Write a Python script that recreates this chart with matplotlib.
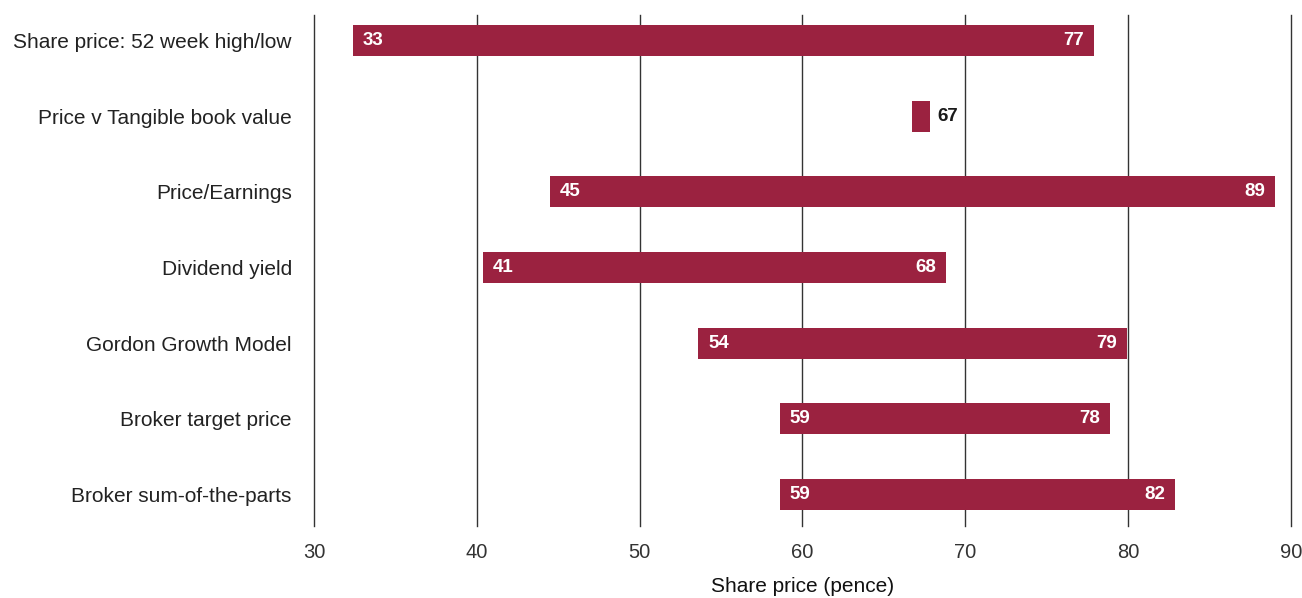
import matplotlib.pyplot as plt

plt.rcParams['font.family'] = ['Liberation Sans', 'DejaVu Sans']

methods = ['Share price: 52 week high/low', 'Price v Tangible book value',
           'Price/Earnings', 'Dividend yield', 'Gordon Growth Model',
           'Broker target price', 'Broker sum-of-the-parts']
# bar extents (pence)
bar_low = [32.4, 66.7, 44.5, 40.4, 53.6, 58.6, 58.6]
bar_high = [77.9, 67.8, 89.0, 68.8, 79.9, 78.9, 82.9]
# printed labels
label_low = ['33', '', '45', '41', '54', '59', '59']
label_high = ['77', '67', '89', '68', '79', '78', '82']

color = '#9b2240'

fig = plt.figure(figsize=(13.02, 5.98), dpi=100)
ax = fig.add_axes([314 / 1302, 72 / 598, 977 / 1302, 511 / 598])

for i in range(len(methods)):
    lo, hi = bar_low[i], bar_high[i]
    ax.barh(i, hi - lo, left=lo, height=0.41, color=color, zorder=3)
    if label_low[i] == '':
        ax.annotate(label_high[i], (hi, i), xytext=(6, 0),
                    textcoords='offset points', ha='left', va='center',
                    fontsize=13.5, fontweight='bold', color='#1a1a1a')
    else:
        ax.annotate(label_low[i], (lo, i), xytext=(7, 0),
                    textcoords='offset points', ha='left', va='center',
                    fontsize=13.5, fontweight='bold', color='white', zorder=4)
        ax.annotate(label_high[i], (hi, i), xytext=(-7, 0),
                    textcoords='offset points', ha='right', va='center',
                    fontsize=13.5, fontweight='bold', color='white', zorder=4)

ax.set_xlim(30, 90)
ax.set_ylim(6.42, -0.34)
ax.set_xticks(range(30, 91, 10))
ax.set_yticks(range(len(methods)))
ax.set_yticklabels(methods, fontsize=15, color='#222222')
ax.tick_params(axis='x', length=0, pad=12, labelsize=14.5, labelcolor='#333333')
ax.tick_params(axis='y', length=0, pad=16)
ax.grid(axis='x', color='#333333', linewidth=1, zorder=0)
for gl in ax.get_xgridlines():
    gl.set_clip_on(False)
for s in ax.spines.values():
    s.set_visible(False)
ax.set_xlabel('Share price (pence)', fontsize=15, color='#111111', labelpad=11)

fig.savefig('out.png', dpi=100)
